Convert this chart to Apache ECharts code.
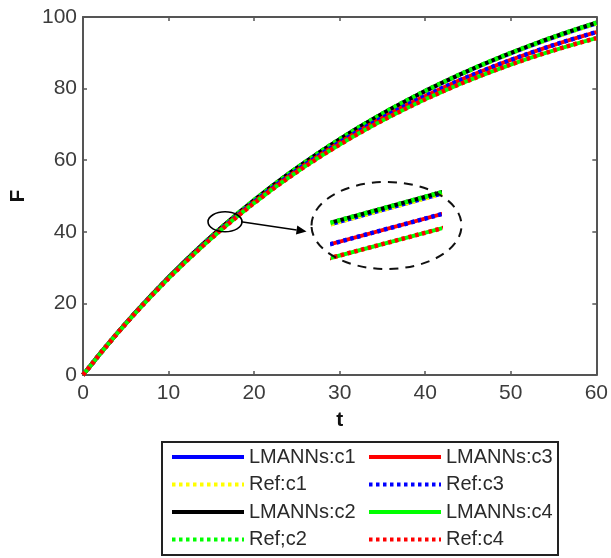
<!DOCTYPE html>
<html>
<head>
<meta charset="utf-8">
<script src="https://cdn.jsdelivr.net/npm/echarts@6/dist/echarts.min.js"></script>
<style>
  html, body { margin: 0; padding: 0; background: #ffffff; }
  #chart { width: 611px; height: 558px; }
</style>
</head>
<body>
<div id="chart"></div>
<script>
// Time samples (t)
const tValues = [0, 2, 4, 6, 8, 10, 12, 14, 16, 18, 20, 22, 24, 26, 28, 30,
                 32, 34, 36, 38, 40, 42, 44, 46, 48, 50, 52, 54, 56, 58, 60];

// F(t) for each case (LMANNs solution; the reference solution coincides at this resolution)
const caseC1 = [0, 5.99, 11.70, 17.13, 22.33, 27.29, 32.01, 36.52, 40.81, 44.92, 48.82,
                52.56, 56.11, 59.50, 62.75, 65.83, 68.77, 71.58, 74.26, 76.81, 79.25,
                81.57, 83.79, 85.91, 87.92, 89.84, 91.67, 93.42, 95.09, 96.68, 98.19];
const caseC2 = [0, 5.99, 11.70, 17.14, 22.34, 27.30, 32.03, 36.54, 40.84, 44.95, 48.86,
                52.60, 56.16, 59.56, 62.81, 65.90, 68.85, 71.67, 74.35, 76.91, 79.36,
                81.69, 83.92, 86.04, 88.06, 89.99, 91.83, 93.59, 95.27, 96.87, 98.39];
const caseC3 = [0, 5.97, 11.66, 17.06, 22.21, 27.12, 31.80, 36.25, 40.48, 44.52, 48.36,
                52.02, 55.50, 58.82, 61.98, 64.98, 67.84, 70.56, 73.14, 75.60, 77.94,
                80.17, 82.29, 84.29, 86.20, 88.01, 89.73, 91.37, 92.93, 94.40, 95.79];
const caseC4 = [0, 5.96, 11.63, 17.00, 22.13, 27.01, 31.65, 36.06, 40.25, 44.24, 48.03,
                51.65, 55.07, 58.33, 61.44, 64.38, 67.18, 69.84, 72.35, 74.74, 77.02,
                79.17, 81.22, 83.15, 84.98, 86.72, 88.36, 89.92, 91.39, 92.78, 94.09];

// Axis ranges / tick steps
const xRange = [0, 60], xStep = 10;
const yRange = [0, 100], yStep = 20;

// Zoomed window shown inside the dashed ellipse
const zoomT = [16.87, 17.13];
const zoomF = [41.90, 43.21];
const zoomCentre = [16.6, 42.8];

const seriesDefs = [
  { name: 'LMANNs:c1', data: caseC1, color: '#0000ff', dotted: false },
  { name: 'Ref:c1',    data: caseC1, color: '#ffff00', dotted: true  },
  { name: 'LMANNs:c2', data: caseC2, color: '#000000', dotted: false },
  { name: 'Ref;c2',    data: caseC2, color: '#00ff00', dotted: true  },
  { name: 'LMANNs:c3', data: caseC3, color: '#ff0000', dotted: false },
  { name: 'Ref:c3',    data: caseC3, color: '#0000ff', dotted: true  },
  { name: 'LMANNs:c4', data: caseC4, color: '#00ff00', dotted: false },
  { name: 'Ref:c4',    data: caseC4, color: '#ff0000', dotted: true  }
];

const FONT = "'Liberation Sans', Arial, Helvetica, sans-serif";
const AXIS_COLOR = '#555555';
const LABEL_COLOR = '#3c3c3c';

function makeSeries(def, xi, yi) {
  return {
    name: def.name,
    type: 'line',
    xAxisIndex: xi,
    yAxisIndex: yi,
    data: tValues.map((t, i) => [t, def.data[i]]),
    symbol: 'none',
    clip: true,
    silent: true,
    animation: false,
    itemStyle: { color: def.color },
    lineStyle: {
      color: def.color,
      width: def.dotted ? 4.5 : 4,
      type: def.dotted ? [3.5, 3.5] : 'solid',
      cap: 'butt',
      join: 'round'
    }
  };
}

const series = [];
seriesDefs.forEach(d => series.push(makeSeries(d, 0, 0)));
seriesDefs.forEach(d => series.push(makeSeries(d, 2, 2)));

const tickCommon = { show: true, inside: true, length: 4, lineStyle: { color: AXIS_COLOR, width: 1.5 } };
const lineCommon = { show: true, onZero: false, lineStyle: { color: AXIS_COLOR, width: 2 } };

const legendCommon = {
  orient: 'vertical', top: 447, padding: 0,
  itemWidth: 72, itemHeight: 14, itemGap: 7.5,
  selectedMode: false,
  itemStyle: { opacity: 0 },
  lineStyle: { width: 4 },
  textStyle: { fontSize: 20, color: '#2a2a2a', fontFamily: FONT }
};

const chart = echarts.init(document.getElementById('chart'), null, { renderer: 'canvas' });

chart.setOption({
  animation: false,
  backgroundColor: '#ffffff',
  grid: [
    { left: 83, right: 14, top: 17, bottom: 183, containLabel: false },
    { left: 333, top: 190, width: 107, height: 72, containLabel: false }
  ],
  xAxis: [
    {
      gridIndex: 0, type: 'value', position: 'bottom',
      min: xRange[0], max: xRange[1], interval: xStep,
      axisLine: lineCommon, axisTick: tickCommon,
      splitLine: { show: false },
      axisLabel: { fontSize: 21, color: LABEL_COLOR, fontFamily: FONT, margin: 8 },
      name: 't', nameLocation: 'middle', nameGap: 35,
      nameTextStyle: { fontSize: 21, fontWeight: 'bold', color: '#111', fontFamily: FONT }
    },
    {
      gridIndex: 0, type: 'value', position: 'top',
      min: xRange[0], max: xRange[1], interval: xStep,
      axisLine: lineCommon, axisTick: tickCommon,
      splitLine: { show: false }, axisLabel: { show: false }
    },
    {
      gridIndex: 1, type: 'value', min: zoomT[0], max: zoomT[1], show: false
    }
  ],
  yAxis: [
    {
      gridIndex: 0, type: 'value', position: 'left',
      min: yRange[0], max: yRange[1], interval: yStep,
      axisLine: lineCommon, axisTick: tickCommon,
      splitLine: { show: false },
      axisLabel: { fontSize: 21, color: LABEL_COLOR, fontFamily: FONT, margin: 6 },
      name: 'F', nameLocation: 'middle', nameGap: 54, nameRotate: 90,
      nameTextStyle: { fontSize: 21, fontWeight: 'bold', color: '#111', fontFamily: FONT }
    },
    {
      gridIndex: 0, type: 'value', position: 'right',
      min: yRange[0], max: yRange[1], interval: yStep,
      axisLine: lineCommon, axisTick: tickCommon,
      splitLine: { show: false }, axisLabel: { show: false }
    },
    {
      gridIndex: 1, type: 'value', min: zoomF[0], max: zoomF[1], show: false
    }
  ],
  legend: [
    Object.assign({}, legendCommon, {
      left: 170,
      data: ['LMANNs:c1', 'Ref:c1', 'LMANNs:c2', 'Ref;c2']
    }),
    Object.assign({}, legendCommon, {
      left: 367,
      data: ['LMANNs:c3', 'Ref:c3', 'LMANNs:c4', 'Ref:c4']
    })
  ],
  series: series
});

// Annotation: small ellipse on the curve, arrow and dashed ellipse around the zoomed view
const p = chart.convertToPixel({ xAxisIndex: 0, yAxisIndex: 0 }, zoomCentre);
const zTL = chart.convertToPixel({ xAxisIndex: 2, yAxisIndex: 2 }, [zoomT[0], zoomF[1]]);
const zBR = chart.convertToPixel({ xAxisIndex: 2, yAxisIndex: 2 }, [zoomT[1], zoomF[0]]);
const ex = (zTL[0] + zBR[0]) / 2, ey = (zTL[1] + zBR[1]) / 2 - 0.5;
const erx = 75, ery = 43.5;
const sx = p[0] + 16, sy = p[1];
const tipX = ex - erx - 5, tipY = ey + 6;
const ang = Math.atan2(tipY - sy, tipX - sx);
const ah = 10, aw = 4.5;
const baseX = tipX - ah * Math.cos(ang), baseY = tipY - ah * Math.sin(ang);

chart.setOption({
  graphic: [
    {
      type: 'ellipse', silent: true, z: 100,
      shape: { cx: p[0], cy: p[1], rx: 17, ry: 10 },
      style: { fill: null, stroke: '#000', lineWidth: 1.6 }
    },
    {
      type: 'line', silent: true, z: 100,
      shape: { x1: sx, y1: sy, x2: baseX, y2: baseY },
      style: { stroke: '#000', lineWidth: 1.6 }
    },
    {
      type: 'polygon', silent: true, z: 100,
      shape: { points: [
        [tipX, tipY],
        [baseX + aw * Math.sin(ang), baseY - aw * Math.cos(ang)],
        [baseX - aw * Math.sin(ang), baseY + aw * Math.cos(ang)]
      ] },
      style: { fill: '#000' }
    },
    {
      type: 'ellipse', silent: true, z: 100,
      shape: { cx: ex, cy: ey, rx: erx, ry: ery },
      style: { fill: null, stroke: '#111', lineWidth: 2, lineDash: [9, 7] }
    },
    {
      type: 'rect', silent: true, z: 100,
      shape: { x: 162, y: 442, width: 396, height: 113 },
      style: { fill: null, stroke: '#222', lineWidth: 2 }
    }
  ]
});
</script>
</body>
</html>
